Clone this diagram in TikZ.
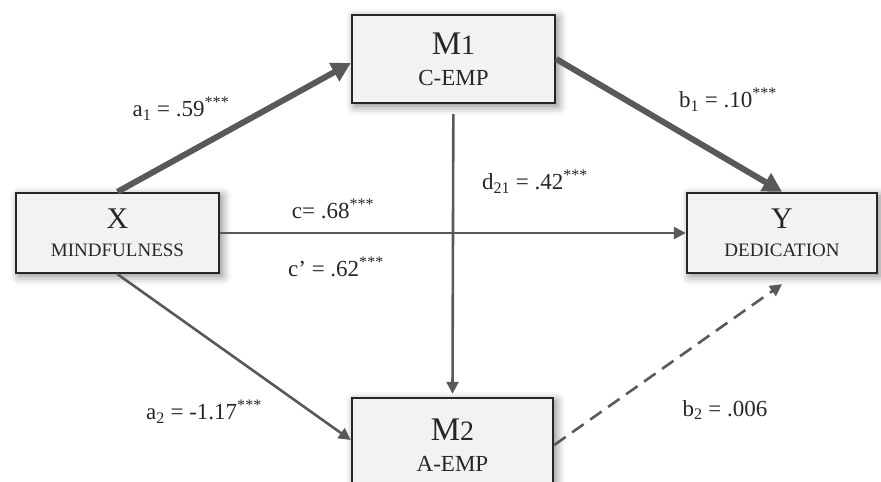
\documentclass[tikz,border=0pt]{standalone}
\usepackage{fontspec}
\setmainfont{Liberation Serif}
\usetikzlibrary{shapes,shadows,shadows.blur,arrows.meta,positioning,calc}
\definecolor{boxgray}{HTML}{F2F2F2}
\definecolor{linegray}{HTML}{595959}
\definecolor{inkgray}{HTML}{262626}
\newcommand\varsym[1]{{\fontsize{30}{30}\selectfont #1}}
\newcommand\medsym[2]{{\fontsize{33}{33}\selectfont #1{\fontsize{28}{28}\selectfont #2}}}
\tikzset{
    varbox/.style={
        rectangle,                 % caja simple
        draw=inkgray,              % borde casi negro
        fill=boxgray,              % relleno gris muy claro
        line width=2.4pt,          % borde grueso
        minimum width=#1,          % ancho segun la caja
        minimum height=80pt,
        align=center,
        inner sep=0pt,
        text=inkgray,
        font=\fontsize{19}{28}\selectfont,
        blur shadow={shadow xshift=3pt, shadow yshift=-3pt,
            shadow blur radius=9pt, shadow opacity=50}
    },
    medbox/.style={
        varbox=#1,
        minimum height=88pt,
        font=\fontsize{23}{31}\selectfont   % mediadores con letra mayor
    },
    coef/.style={
        text=inkgray,
        font=\fontsize{23}{26}\selectfont,
        inner sep=0pt
    }
}

\begin{document}
\begin{tikzpicture}[
        x=1pt, y=-1pt,
        bigarrow/.style={-{Triangle[length=19pt,width=20pt]}, line width=6pt, draw=linegray},
        arrow/.style={-{Triangle[length=12pt,width=12pt]}, line width=2.6pt, draw=linegray}
    ]
    \useasboundingbox (0,0) rectangle (881,482);

    \node[varbox=203pt] (x) at (117.5,233) {\varsym{X}\\MINDFULNESS};
    \node[medbox=203pt] (m1) at (453.5,59) {\medsym{M}{1}\\C-EMP};
    \node[medbox=201pt, minimum height=94pt] (m2) at (452.5,445) {\medsym{M}{2}\\A-EMP};
    \node[varbox=190pt] (y) at (782,233) {\varsym{Y}\\DEDICATION};

    \draw[bigarrow] (x.north) -- ([yshift=-4pt]m1.west);
    \draw[bigarrow] (m1.east) -- (y.north);
    \draw[arrow] (x) -- (y);
    \draw[arrow, shorten <=10pt] (m1) -- ([yshift=3pt]m2.north);
    \draw[arrow] (x.south) -- ([yshift=5pt]m2.west);
    \draw[arrow, dash pattern=on 14pt off 8pt] (m2.east) -- ([yshift=-10pt]y.south);

    \node[coef] (a1) at (181,109) {a\textsubscript{1} = .59\textsuperscript{***}};
    \node[coef] (b1) at (728,100) {b\textsubscript{1} = .10\textsuperscript{***}};
    \node[coef] (d21) at (535,182) {d\textsubscript{21} = .42\textsuperscript{***}};
    \node[coef] (c) at (333,209) {c= .68\textsuperscript{***}};
    \node[coef] (cp) at (336,267) {c’ = .62\textsuperscript{***}};
    \node[coef] (a2) at (204,412) {a\textsubscript{2} = -1.17\textsuperscript{***}};
    \node[coef] (b2) at (725,410) {b\textsubscript{2} = .006};
\end{tikzpicture}
\end{document}
